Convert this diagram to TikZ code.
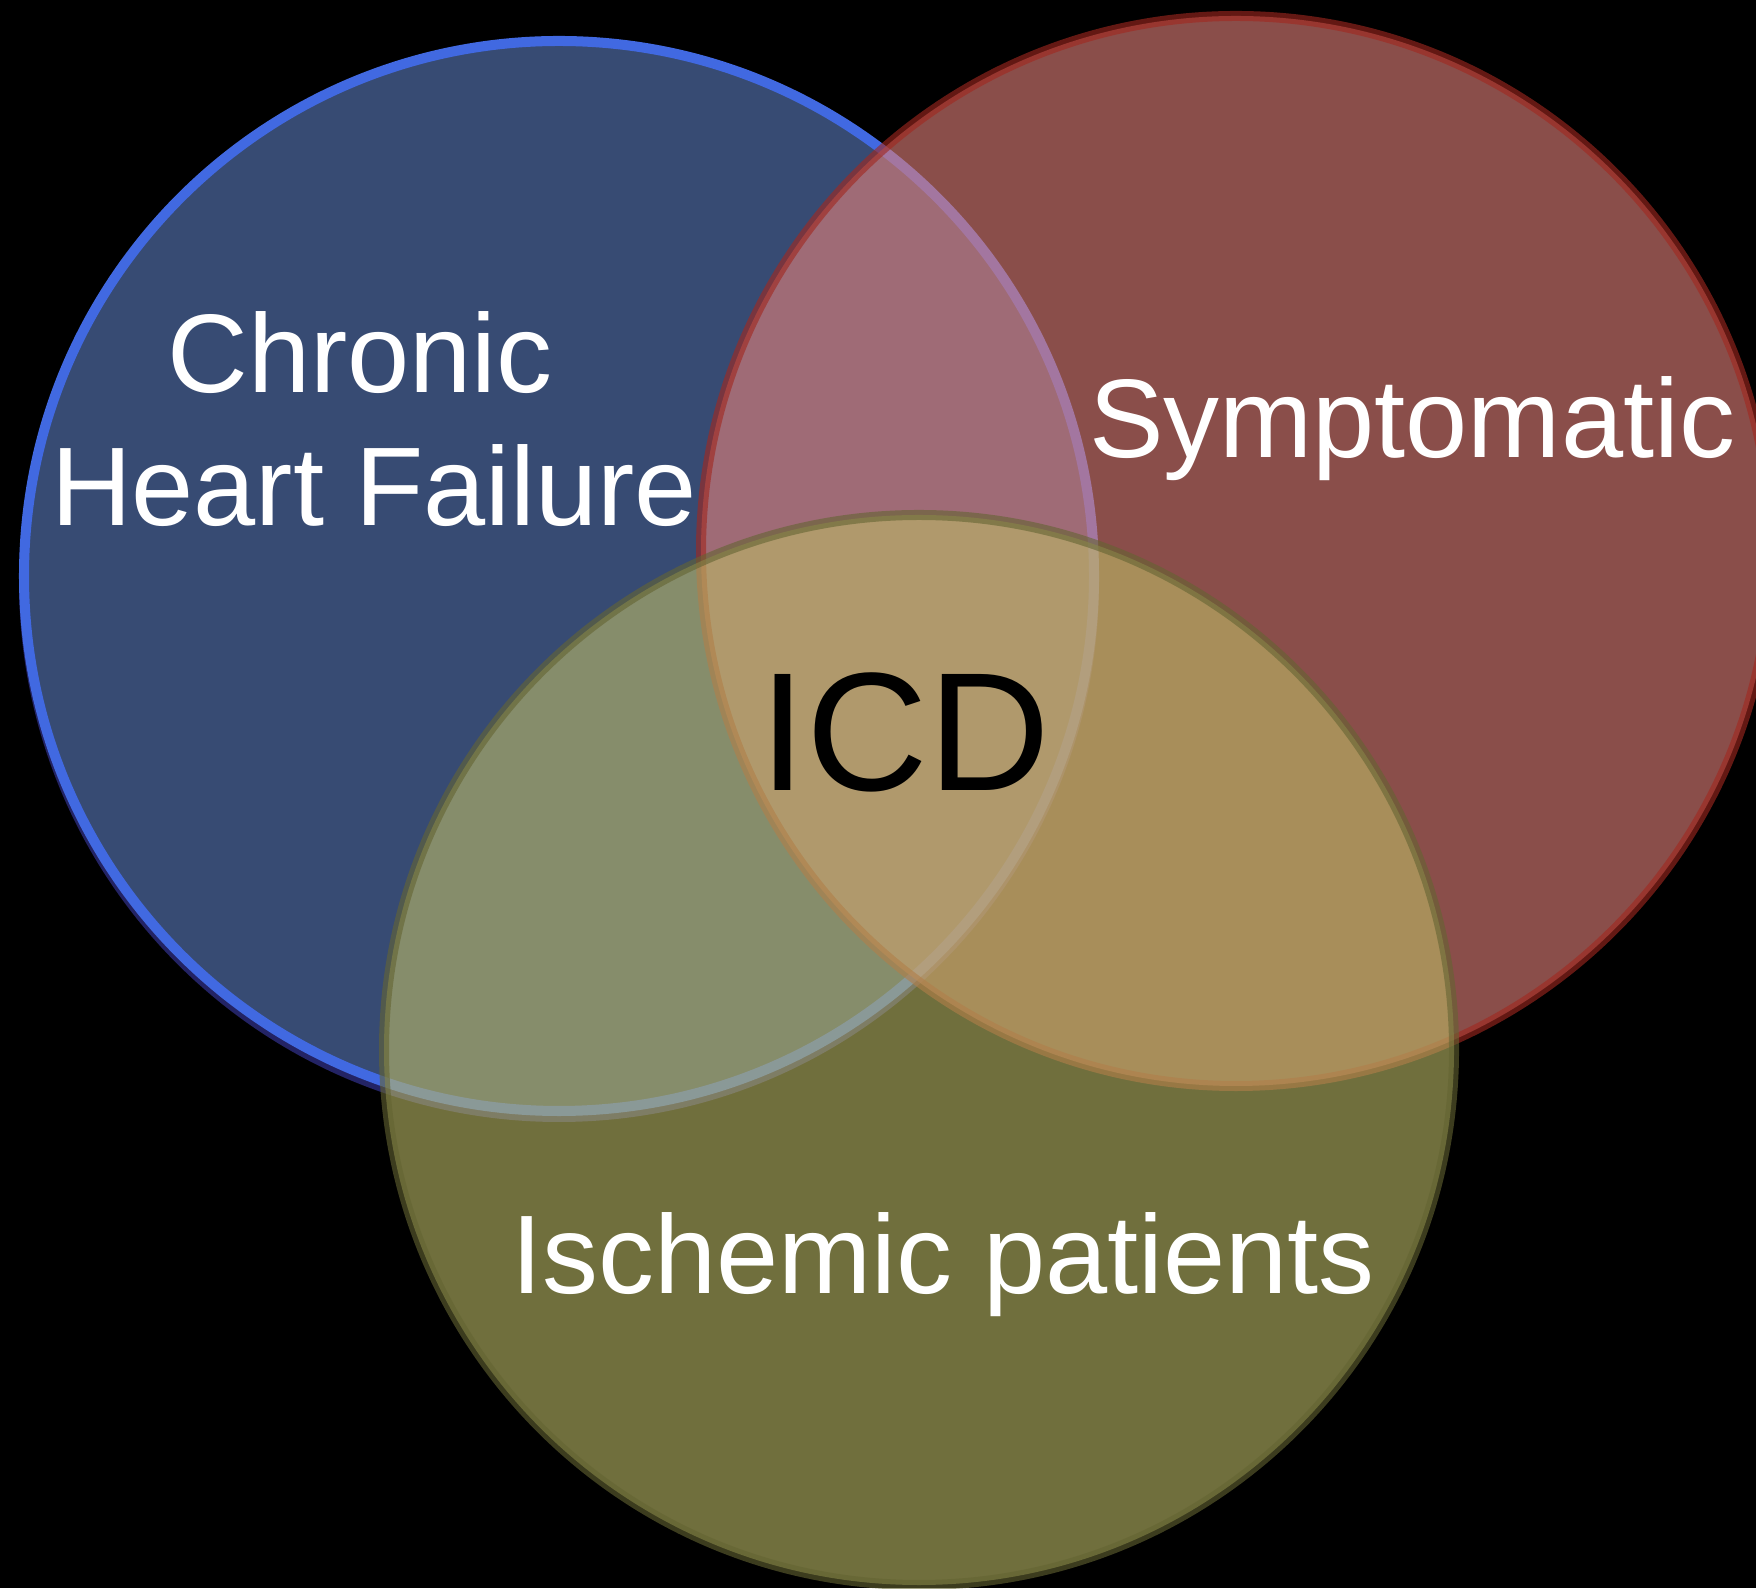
\documentclass[tikz,border=0pt]{standalone}
\usepackage{fontspec}
\setmainfont{Liberation Sans}

\definecolor{hfblue}{RGB}{55,75,115}
\definecolor{hfline}{RGB}{65,105,225}
\definecolor{hfshadow}{RGB}{35,35,100}
\definecolor{symred}{RGB}{224,127,121}
\definecolor{symline}{RGB}{161,40,32}
\definecolor{ischolive}{RGB}{188,185,102}
\definecolor{ischline}{RGB}{100,100,50}

\begin{document}
\begin{tikzpicture}[every node/.style={inner sep=0pt,anchor=base,
    font=\fontsize{31.8}{38}\selectfont},
  ring/.style={line width=2.85pt}]
\useasboundingbox (0,0) rectangle (17.56,15.88);
\fill[black] (0,0) rectangle (17.56,15.88);
\clip (0,0) rectangle (17.56,15.88);
% chronic heart failure, opaque, with a small drop shadow
\fill[hfshadow] (5.59,10.06) circle (5.40);
\filldraw[ring,fill=hfblue,draw=hfline] (5.59,10.12) circle (5.35);
% symptomatic
\filldraw[ring,fill=symred,draw=symline,opacity=0.62] (12.36,10.37) circle (5.35);
% ischemic
\filldraw[ring,fill=ischolive,draw=ischline,opacity=0.6] (9.19,5.38) circle (5.35);
\node[text=white] (chronic) at (3.60,11.95) {Chronic};
\node[text=white] (heartfail) at (3.74,10.62) {Heart Failure};
\node[text=white] (sympt) at (14.12,11.30) {Symptomatic};
\node[text=white] (ischem) at (9.43,2.95) {Ischemic patients};
\node[text=black,font=\fontsize{48}{58}\selectfont] (icd) at (9.05,7.97) {ICD};
\end{tikzpicture}
\end{document}
